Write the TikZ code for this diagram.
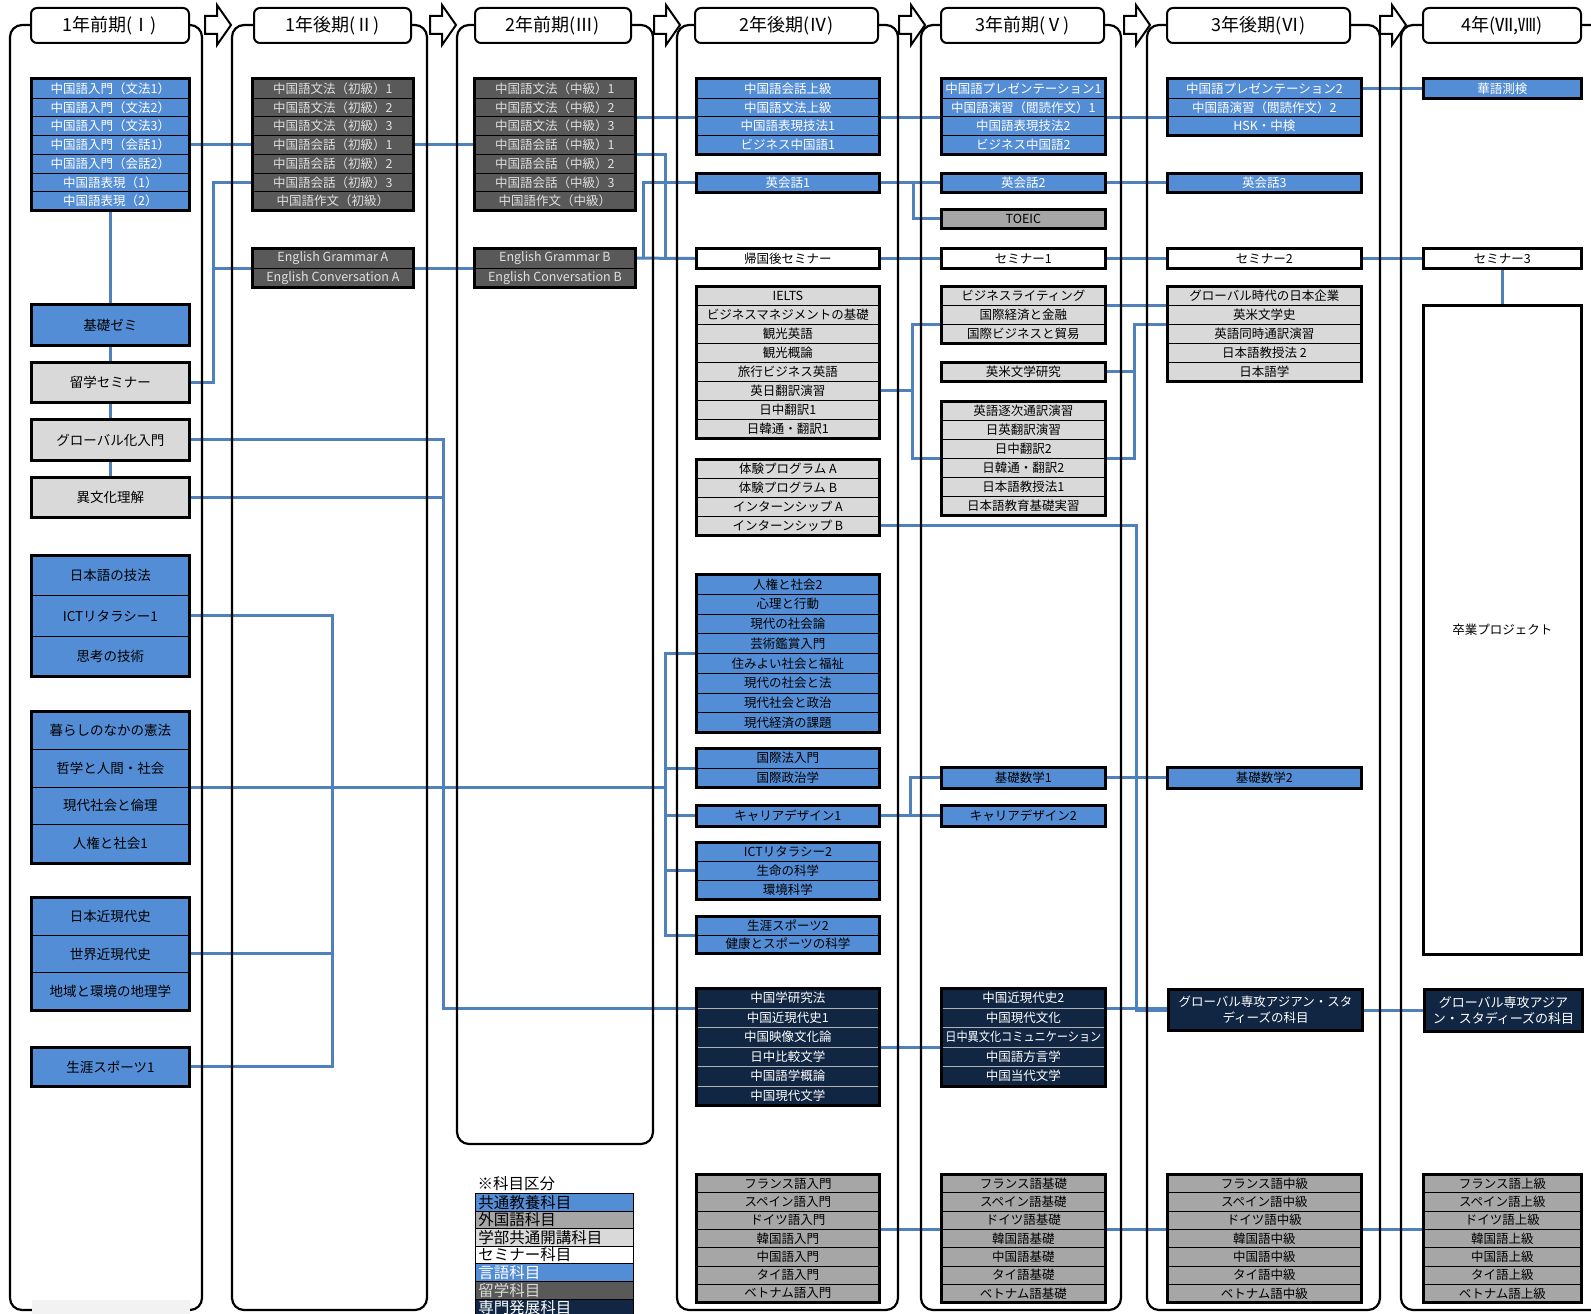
\documentclass[tikz,border=0pt]{standalone}
\usepackage{fontspec}
\setmainfont{Noto Sans CJK JP}
\usepackage{graphicx}
\usetikzlibrary{positioning,calc,fit}
\pgfdeclarelayer{links}
\pgfsetlayers{links,main}

\definecolor{cBlue}{RGB}{83,141,213}
\definecolor{cMid}{RGB}{166,166,166}
\definecolor{cLight}{RGB}{217,217,217}
\definecolor{cDark}{RGB}{89,89,89}
\definecolor{cNavy}{RGB}{17,38,66}
\definecolor{cLink}{RGB}{79,129,189}

% squeeze a text that is wider than the box
\newsavebox\fitbox
\newcommand\fitw[2]{\sbox\fitbox{#2}\ifdim\wd\fitbox>#1\relax\resizebox{#1}{\height}{\usebox\fitbox}\else\usebox\fitbox\fi}

\tikzset{
  subj/.style={draw=black, line width=0.8pt, inner sep=0pt, font=\fontsize{12.5}{14}\selectfont},
  grpframe/.style={draw=black, line width=3pt, inner sep=0pt},
  big/.style={font=\fontsize{13.5}{15}\selectfont},
  common/.style={fill=cBlue, text=black},
  lang/.style={fill=cBlue, text=white},
  foreign/.style={fill=cMid, text=black},
  faculty/.style={fill=cLight, text=black},
  seminar/.style={fill=white, text=black},
  abroad/.style={fill=cDark, text=white!88!black},
  major/.style={fill=cNavy, text=white, draw=white!70!black},
  link/.style={draw=cLink, line width=3pt},
  termframe/.style={draw=black, line width=2.2pt, rounded corners=12pt},
  termhead/.style={draw=black, fill=white, line width=2pt, rounded corners=6pt,
    minimum height=35pt, inner sep=0pt, font=\fontsize{18}{20}\selectfont},
  stagearrow/.style={draw=black, fill=white, line width=2pt, line join=miter},
  legendrow/.style={draw=black, line width=0.8pt, inner xsep=3pt, inner ysep=0pt,
    text width=152pt, minimum height=17.6pt, align=left, font=\fontsize{15.5}{17}\selectfont}
}

% name, x left, x right, y top, row height, kind, texts
\newcommand\subjects[7]{%
  \pgfmathsetlengthmacro\fitmax{(#3-#2-8)*1pt}
  \foreach \t [count=\i] in {#7} {
    \node[subj, #6, minimum width={(#3-#2)*1pt}, minimum height={#5*1pt}, anchor=north west]
      (#1-\i) at (#2,{#4+(\i-1)*#5}) {\fitw{\fitmax}{\t}};
    \xdef\lastrow{\i}
  }
  \node[grpframe, fit=(#1-1)(#1-\lastrow)] (#1) {};
}

\begin{document}
\begin{tikzpicture}[x=1pt, y=-1pt]
  \useasboundingbox (0,0) rectangle (1591,1314);
  \clip (0,0) rectangle (1591,1314);

  % term frames
  \foreach \l/\r/\b in {10/202/1310, 232/427/1310, 457/653/1144, 677/898/1310,
                        921/1121/1310, 1147/1380/1310, 1401/1640/1310}
    \draw[termframe] (\l,25) rectangle (\r,\b);
  \fill[gray!10] (32,1300) rectangle (190,1314);

  % arrows between terms
  \foreach \ax in {205,430,654,899,1124,1380}
    \draw[stagearrow] (\ax,16) -- ++(12,0) -- ++(0,-11) -- ++(14,20) -- ++(-14,20)
      -- ++(0,-11) -- ++(-12,0) -- cycle;

  % term headers
  \node[termhead, minimum width=158pt] (hdr1) at (110,25.5) {1年前期(Ⅰ)};
  \node[termhead, minimum width=157pt] (hdr2) at (332.5,25.5) {1年後期(Ⅱ)};
  \node[termhead, minimum width=156pt] (hdr3) at (553,25.5) {2年前期(Ⅲ)};
  \node[termhead, minimum width=183pt] (hdr4) at (786.5,25.5) {2年後期(Ⅳ)};
  \node[termhead, minimum width=163pt] (hdr5) at (1022.5,25.5) {3年前期(Ⅴ)};
  \node[termhead, minimum width=183pt] (hdr6) at (1258.5,25.5) {3年後期(Ⅵ)};
  \node[termhead, minimum width=158pt] (hdr7) at (1502,25.5) {4年(Ⅶ,Ⅷ)};

  % 1st term
  \subjects{c1a}{31}{189}{79}{18.7}{lang}{中国語入門（文法1）,中国語入門（文法2）,中国語入門（文法3）,中国語入門（会話1）,中国語入門（会話2）,中国語表現（1）,中国語表現（2）}
  \subjects{kiso}{31}{189}{304}{41}{common, big}{基礎ゼミ}
  \subjects{ryugaku}{31}{189}{362}{40}{faculty, big}{留学セミナー}
  \subjects{global}{31}{189}{419}{41}{faculty, big}{グローバル化入門}
  \subjects{ibunka}{31}{189}{477}{40}{faculty, big}{異文化理解}
  \subjects{c1b}{31}{189}{555}{40.3}{common, big}{日本語の技法,ICTリタラシー1,思考の技術}
  \subjects{c1c}{31}{189}{711}{37.8}{common, big}{暮らしのなかの憲法,哲学と人間・社会,現代社会と倫理,人権と社会1}
  \subjects{c1d}{31}{189}{897}{37.7}{common, big}{日本近現代史,世界近現代史,地域と環境の地理学}
  \subjects{sports1}{31}{189}{1047}{39}{common, big}{生涯スポーツ1}

  % 2nd term
  \subjects{c2a}{252}{413}{79}{18.7}{abroad}{中国語文法（初級）1,中国語文法（初級）2,中国語文法（初級）3,中国語会話（初級）1,中国語会話（初級）2,中国語会話（初級）3,中国語作文（初級）}
  \subjects{c2b}{252}{413}{248}{19.5}{abroad}{English Grammar A,English Conversation A}

  % 3rd term
  \subjects{c3a}{474}{635}{79}{18.7}{abroad}{中国語文法（中級）1,中国語文法（中級）2,中国語文法（中級）3,中国語会話（中級）1,中国語会話（中級）2,中国語会話（中級）3,中国語作文（中級）}
  \subjects{c3b}{474}{635}{248}{19.5}{abroad}{English Grammar B,English Conversation B}

  % 4th term
  \subjects{c4a}{696}{879}{79}{18.7}{lang}{中国語会話上級,中国語文法上級,中国語表現技法1,ビジネス中国語1}
  \subjects{eikaiwa1}{696}{879}{173}{18.7}{lang}{英会話1}
  \subjects{kikoku}{696}{879}{248}{20}{seminar}{帰国後セミナー}
  \subjects{c4b}{696}{879}{286}{19}{faculty}{IELTS,ビジネスマネジメントの基礎,観光英語,観光概論,旅行ビジネス英語,英日翻訳演習,日中翻訳1,日韓通・翻訳1}
  \subjects{c4c}{696}{879}{459}{19}{faculty}{体験プログラム A,体験プログラム B,インターンシップ A,インターンシップ B}
  \subjects{c4d}{696}{879}{574}{19.75}{common}{人権と社会2,心理と行動,現代の社会論,芸術鑑賞入門,住みよい社会と福祉,現代の社会と法,現代社会と政治,現代経済の課題}
  \subjects{c4e}{696}{879}{748}{19.5}{common}{国際法入門,国際政治学}
  \subjects{career1}{696}{879}{805}{21}{common}{キャリアデザイン1}
  \subjects{c4f}{696}{879}{842}{19}{common}{ICTリタラシー2,生命の科学,環境科学}
  \subjects{c4g}{696}{879}{916}{18.5}{common}{生涯スポーツ2,健康とスポーツの科学}
  \subjects{c4h}{696}{879}{988}{19.5}{major}{中国学研究法,中国近現代史1,中国映像文化論,日中比較文学,中国語学概論,中国現代文学}
  \subjects{c4i}{696}{879}{1174}{18.3}{foreign}{フランス語入門,スペイン語入門,ドイツ語入門,韓国語入門,中国語入門,タイ語入門,ベトナム語入門}

  % 5th term
  \subjects{c5a}{941}{1105}{79}{18.7}{lang}{中国語プレゼンテーション1,中国語演習（閲読作文）1,中国語表現技法2,ビジネス中国語2}
  \subjects{eikaiwa2}{941}{1105}{173}{18.7}{lang}{英会話2}
  \subjects{toeic}{941}{1105}{209}{19}{foreign}{TOEIC}
  \subjects{seminar1}{941}{1105}{248}{20}{seminar}{セミナー1}
  \subjects{c5b}{941}{1105}{286}{19}{faculty}{ビジネスライティング,国際経済と金融,国際ビジネスと貿易}
  \subjects{eibei}{941}{1105}{362}{19}{faculty}{英米文学研究}
  \subjects{c5c}{941}{1105}{401}{19}{faculty}{英語逐次通訳演習,日英翻訳演習,日中翻訳2,日韓通・翻訳2,日本語教授法1,日本語教育基礎実習}
  \subjects{sugaku1}{941}{1105}{767}{21}{common}{基礎数学1}
  \subjects{career2}{941}{1105}{805}{21}{common}{キャリアデザイン2}
  \subjects{c5d}{941}{1105}{988}{19.5}{major}{中国近現代史2,中国現代文化,日中異文化コミュニケーション,中国語方言学,中国当代文学}
  \subjects{c5e}{941}{1105}{1174}{18.3}{foreign}{フランス語基礎,スペイン語基礎,ドイツ語基礎,韓国語基礎,中国語基礎,タイ語基礎,ベトナム語基礎}

  % 6th term
  \subjects{c6a}{1167}{1361}{79}{18.7}{lang}{中国語プレゼンテーション2,中国語演習（閲読作文）2,HSK・中検}
  \subjects{eikaiwa3}{1167}{1361}{173}{18.7}{lang}{英会話3}
  \subjects{seminar2}{1167}{1361}{248}{20}{seminar}{セミナー2}
  \subjects{c6b}{1167}{1361}{286}{19}{faculty}{グローバル時代の日本企業,英米文学史,英語同時通訳演習,日本語教授法 2,日本語学}
  \subjects{sugaku2}{1167}{1361}{767}{21}{common}{基礎数学2}
  \node[subj, major, grpframe, align=center, minimum width=194pt, minimum height=41pt,
    anchor=north west, font=\fontsize{12.5}{16}\selectfont] (gsas6) at (1167,988)
    {グローバル専攻アジアン・スタ\\ディーズの科目};
  \subjects{c6c}{1167}{1361}{1174}{18.3}{foreign}{フランス語中級,スペイン語中級,ドイツ語中級,韓国語中級,中国語中級,タイ語中級,ベトナム語中級}

  % 4th year
  \subjects{kago}{1423}{1581}{79}{18.7}{lang}{華語測検}
  \subjects{seminar3}{1423}{1581}{248}{20}{seminar}{セミナー3}
  \subjects{sotsu}{1423}{1581}{305}{649}{seminar}{卒業プロジェクト}
  \node[subj, major, grpframe, align=center, minimum width=158pt, minimum height=42pt,
    anchor=north west, font=\fontsize{13}{16}\selectfont] (gsas7) at (1423,988)
    {グローバル専攻アジア\\ン・スタディーズの科目};
  \subjects{c7a}{1423}{1581}{1174}{18.3}{foreign}{フランス語上級,スペイン語上級,ドイツ語上級,韓国語上級,中国語上級,タイ語上級,ベトナム語上級}

  % legend
  \node[anchor=west, font=\fontsize{15.5}{17}\selectfont] (legend) at (474,1184) {※科目区分};
  \foreach \t/\f/\c [count=\i] in {共通教養科目/cBlue/black, 外国語科目/cMid/black,
      学部共通開講科目/cLight/black, セミナー科目/white/black, 言語科目/cBlue/white,
      留学科目/cDark/white!85!black, 専門発展科目/cNavy/white}
    \node[legendrow, fill=\f, text=\c, anchor=north west] (key-\i) at (475,{1193+(\i-1)*17.6}) {\t};

  % bus lines
  \coordinate (busRyu) at (213,0);
  \coordinate (busCn) at (665,0);
  \coordinate (busEng) at (643,0);
  \coordinate (busToeic) at (913,0);
  \coordinate (busIelts) at (912,0);
  \coordinate (busV) at (1134,0);
  \coordinate (busIntern) at (1136,0);
  \coordinate (busGlobal) at (443,0);
  \coordinate (busIct) at (332,0);
  \coordinate (busCommon) at (665,0);
  \coordinate (busCareer) at (910,0);

  \begin{pgfonlayer}{links}
    % Chinese
    \draw[link] (c1a-4.east) -- (c2a-4.west);
    \draw[link] (c2a-4.east) -- (c3a-4.west);
    \draw[link] (c3a-2.south east) -- (c4a-2.south west);
    \draw[link] (c4a-2.south east) -- (c5a-2.south west);
    \draw[link] (c5a-2.south east) -- (c6a-2.south west);
    \draw[link] (c6a-1.east) -- (kago.west);
    % study abroad
    \draw[link] (ryugaku.east) -| (c2a-6.west -| busRyu) -- (c2a-6.west);
    \draw[link] (c2b-1.south west) -- (c2b-1.south west -| busRyu);
    \draw[link] (c2b-1.south east) -- (c3b-1.south west);
    \draw[link] (c3a-4.south east) -| (kikoku.west -| busCn) -- (kikoku.west);
    \draw[link] (c3b-1.east) -- (kikoku.west);
    \draw[link] (c3b-1.east -| busEng) |- (eikaiwa1.west);
    % English
    \draw[link] (eikaiwa1.east) -- (eikaiwa2.west);
    \draw[link] (eikaiwa2.east) -- (eikaiwa3.west);
    \draw[link] (eikaiwa1.east -| busToeic) |- (toeic.west);
    % seminars
    \draw[link] (kikoku.east) -- (seminar1.west);
    \draw[link] (seminar1.east) -- (seminar2.west);
    \draw[link] (seminar2.east) -- (seminar3.west);
    \draw[link] (seminar3.south) -- (sotsu.north);
    % faculty courses
    \draw[link] (c4b-6.east) -- (c4b-6.east -| busIelts);
    \draw[link] (c5b-2.south west) -| (c5c-3.south west -| busIelts) -- (c5c-3.south west);
    \draw[link] (c5b-1.south east) -- (c6b-1.south west);
    \draw[link] (c6b-2.south west) -| (c5c-3.south east -| busV) -- (c5c-3.south east);
    \draw[link] (eibei.east) -- (eibei.east -| busV);
    \draw[link] (c4c-4.east) -| (gsas6.west -| busIntern) -- (gsas6.west);
    \draw[link] (c5d-1.south east) -- (c5d-1.south east -| gsas6.west);
    \draw[link] (gsas6.east) -- (gsas6.east -| gsas7.west);
    % common courses
    \draw[link] (global.east) -| (c4h-1.south west -| busGlobal) -- (c4h-1.south west);
    \draw[link] (ibunka.east) -- (ibunka.east -| busGlobal);
    \draw[link] (c1b-2.east) -| (sports1.east -| busIct) -- (sports1.east);
    \draw[link] (c1d-2.east) -- (c1d-2.east -| busIct);
    \draw[link] (c1c-2.south east) -- (c1c-2.south east -| busCommon);
    \draw[link] (c4d-4.south west) -| (c4g-1.south west -| busCommon) -- (c4g-1.south west);
    \draw[link] (c4e-1.south west) -- (c4e-1.south west -| busCommon);
    \draw[link] (career1.west) -- (career1.west -| busCommon);
    \draw[link] (c4f-2.west) -- (c4f-2.west -| busCommon);
    \draw[link] (career1.east) -- (career2.west);
    \draw[link] (career1.east -| busCareer) |- (sugaku1.west);
    \draw[link] (sugaku1.east) -- (sugaku2.west);
    % major
    \draw[link] (c4h-3.south east) -- (c5d-3.south west);
    % other languages
    \draw[link] (c4i-3.south east) -- (c5e-3.south west);
    \draw[link] (c5e-3.south east) -- (c6c-3.south west);
    \draw[link] (c6c-3.south east) -- (c7a-3.south west);
    % 1st term chain
    \draw[link] (c1a.south) -- (kiso.north);
    \draw[link] (kiso.south) -- (ryugaku.north);
    \draw[link] (ryugaku.south) -- (global.north);
    \draw[link] (global.south) -- (ibunka.north);
  \end{pgfonlayer}
\end{tikzpicture}
\end{document}
